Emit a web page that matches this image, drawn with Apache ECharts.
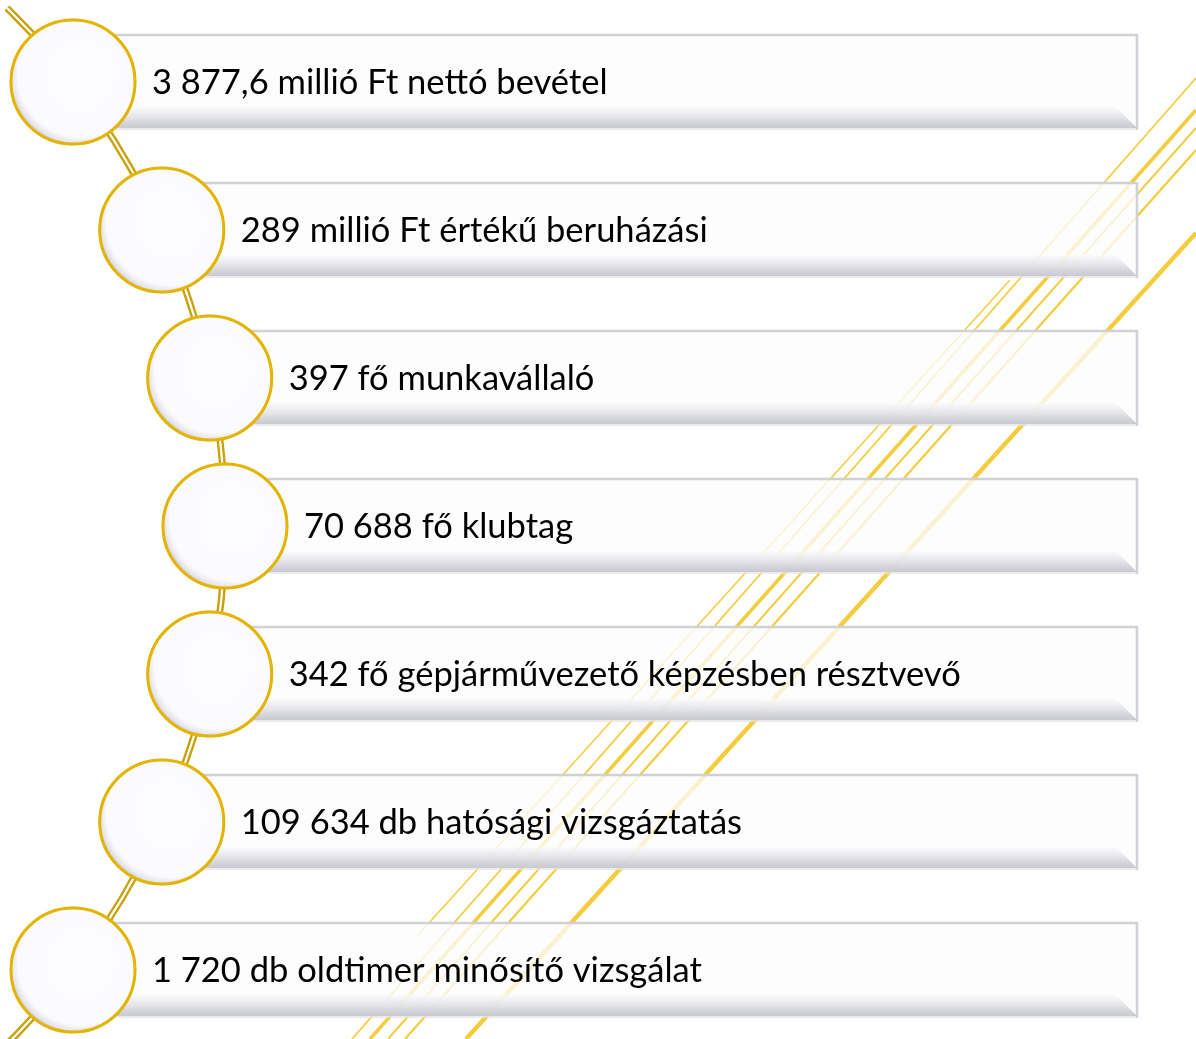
<!DOCTYPE html>
<html>
<head>
<meta charset="utf-8">
<script src="https://cdn.jsdelivr.net/npm/echarts@6/dist/echarts.min.js"></script>
<style>
  html, body { margin: 0; padding: 0; background: #ffffff; }
  #chart { width: 1196px; height: 1039px; }
</style>
</head>
<body>
<div id="chart"></div>
<script>
// ---- data ----
const figures = ['3 877,6', '289', '397', '70 688', '342', '109 634', '1 720'];
const descriptions = [
  'millió Ft nettó bevétel',
  'millió Ft értékű beruházási',
  'fő munkavállaló',
  'fő klubtag',
  'fő gépjárművezető képzésben résztvevő',
  'db hatósági vizsgáztatás',
  'db oldtimer minősítő vizsgálat'
];
const labels = figures.map((f, i) => f + ' ' + descriptions[i]);
const rowKeys = labels.map((_, i) => 'r' + i);

// ---- layout constants (pixels / x-axis units) ----
const EDGE_X = 73;    // circle centre x of first/last row
const MID_X = 225;    // circle centre x of middle row
const BOX_RIGHT = 1137;
const CIRCLE_R = 62;

const chart = echarts.init(document.getElementById('chart'), null, { renderer: 'canvas' });

function arcGeom(api) {
  const n = labels.length;
  const yFirst = api.coord([0, 0])[1];
  const yMid = api.coord([0, (n - 1) / 2])[1];
  const xEdge = api.coord([EDGE_X, 0])[0];
  const xMid = api.coord([MID_X, 0])[0];
  const dx = xMid - xEdge, dy = yMid - yFirst;
  const R = (dx * dx + dy * dy) / (2 * dx);
  return { cx: xMid - R, cy: yMid, R: R };
}
function arcXAt(g, y) {
  return g.cx + Math.sqrt(g.R * g.R - (y - g.cy) * (y - g.cy));
}

const boxSeries = {
  type: 'custom',
  z: 2,
  silent: true,
  data: labels.map((l, i) => ({ value: [0, i], name: l })),
  encode: { x: 0, y: 1 },
  renderItem: function (params, api) {
    const i = api.value(1);
    const cy = api.coord([0, i])[1];
    const g = arcGeom(api);
    const x0 = arcXAt(g, cy);
    const x1 = api.coord([BOX_RIGHT, i])[0];
    const top = cy - 48, bot = cy + 46;
    const bev = 21;
    return {
      type: 'group',
      children: [
        { type: 'rect', shape: { x: x0, y: top, width: x1 - x0, height: bot - top },
          style: { fill: 'rgba(252,252,253,0.78)' } },
        { type: 'polygon', shape: { points: [[x0, bot - bev], [x1 - bev, bot - bev], [x1, bot], [x0, bot]] },
          style: { fill: new echarts.graphic.LinearGradient(0, 0, 0, 1, [
            { offset: 0, color: 'rgba(250,250,252,0.7)' },
            { offset: 0.75, color: 'rgba(208,208,216,0.9)' },
            { offset: 1, color: 'rgba(198,199,207,0.95)' }
          ]) } },
        { type: 'line', shape: { x1: x0, y1: top + 1, x2: x1, y2: top + 1 },
          style: { stroke: '#cfd1d5', lineWidth: 2.5 } },
        { type: 'line', shape: { x1: x0, y1: bot + 1, x2: x1, y2: bot + 1 },
          style: { stroke: '#e4e5e8', lineWidth: 1.5 } },
        { type: 'line', shape: { x1: x1, y1: top, x2: x1, y2: bot + 2 },
          style: { stroke: '#cfd2d6', lineWidth: 2.5 } },
        { type: 'text', x: x0 + 79, y: cy + 1,
          style: { text: labels[i], fill: '#000000', font: '34.5px Lato, "Open Sans", sans-serif',
                   verticalAlign: 'middle', align: 'left' } }
      ]
    };
  }
};

const arcSeries = {
  type: 'custom',
  z: 3,
  silent: true,
  data: [{ value: [0, 0] }],
  encode: { x: 0, y: 1 },
  renderItem: function (params, api) {
    const g = arcGeom(api);
    const topY = 8, botY = 1045;
    const a0 = Math.asin((topY - g.cy) / g.R);
    const a1 = Math.asin((botY - g.cy) / g.R);
    const shape = { cx: g.cx, cy: g.cy, r: g.R, startAngle: a0, endAngle: a1, clockwise: true };
    return {
      type: 'group',
      children: [
        { type: 'arc', shape: shape, style: { stroke: '#c8a10c', lineWidth: 7, fill: null } },
        { type: 'arc', shape: shape, style: { stroke: '#ffffff', lineWidth: 2.2, fill: null } }
      ]
    };
  }
};

const circleSeries = {
  type: 'custom',
  z: 4,
  silent: true,
  data: labels.map((l, i) => ({ value: [0, i] })),
  encode: { x: 0, y: 1 },
  renderItem: function (params, api) {
    const i = api.value(1);
    const cy = api.coord([0, i])[1];
    const g = arcGeom(api);
    const cx = arcXAt(g, cy);
    return {
      type: 'group',
      children: [
        { type: 'circle', shape: { cx: cx, cy: cy, r: CIRCLE_R + 1.2 },
          style: { fill: 'rgba(120,100,40,0.55)' } },
        { type: 'circle', shape: { cx: cx, cy: cy, r: CIRCLE_R },
          style: {
            fill: new echarts.graphic.RadialGradient(0.56, 0.44, 0.56, [
              { offset: 0, color: '#fdfcfe' },
              { offset: 0.88, color: '#fbfafd' },
              { offset: 0.97, color: '#e6e4ec' },
              { offset: 1, color: '#d4d2da' }
            ]),
            stroke: '#e3b500', lineWidth: 3
          } }
      ]
    };
  }
};

// decorative diagonal gold lines in the background
const decoLines = [
  { x1: 1196, y1: 78, x2: 352, y2: 1039, w: 1.8 },
  { x1: 1196, y1: 110, x2: 370, y2: 1039, w: 3.5 },
  { x1: 1196, y1: 128, x2: 388, y2: 1039, w: 2 },
  { x1: 1196, y1: 150, x2: 405, y2: 1039, w: 2.2 },
  { x1: 1196, y1: 233, x2: 466, y2: 1039, w: 4.5 },
  { x1: 1010, y1: 280, x2: 418, y2: 935, w: 1.5 }
];

chart.setOption({
  animation: false,
  backgroundColor: '#ffffff',
  grid: { left: 0, right: 0, top: 8, height: 1036, outerBoundsMode: 'none', containLabel: false },
  xAxis: { type: 'value', min: 0, max: 1196, show: false },
  yAxis: { type: 'category', data: rowKeys, inverse: true, show: false },
  graphic: decoLines.map(l => ({
    type: 'line', z: 0, silent: true,
    shape: { x1: l.x1, y1: l.y1, x2: l.x2, y2: l.y2 },
    style: { stroke: 'rgba(243,198,40,0.9)', lineWidth: l.w }
  })),
  series: [boxSeries, arcSeries, circleSeries]
});
</script>
</body>
</html>
